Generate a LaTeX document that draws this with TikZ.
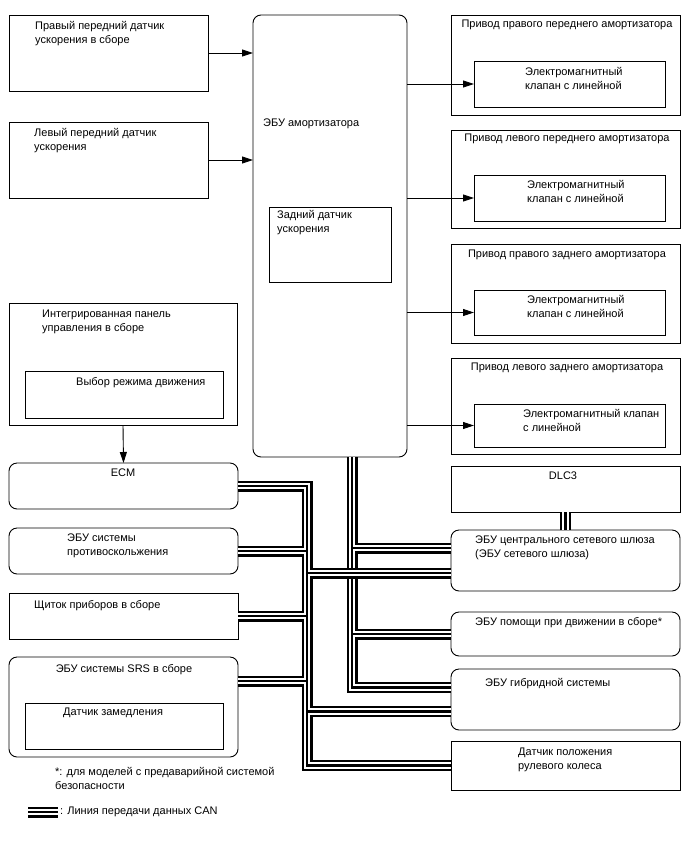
\documentclass[tikz,border=0pt]{standalone}
\usepackage{fontspec}
\setmainfont{Liberation Sans}
\usetikzlibrary{arrows.meta}

\begin{document}
\begin{tikzpicture}[x=1pt, y=-1pt,
  box/.style={draw, line width=0.9pt, anchor=north west, inner sep=0pt, outer sep=0pt},
  rbox/.style={box, rounded corners=8pt},
  txt/.style={anchor=north west, inner sep=0pt, align=left, font=\fontsize{11}{14}\selectfont},
  arr/.style={-{Triangle[length=11pt,width=7pt]}, line width=0.9pt},
  canline/.style={line width=11pt, postaction={draw=white, line width=6.6pt}, postaction={draw=black, line width=2.2pt}}]
  \useasboundingbox (0,0) rectangle (688,852);

  % sensors and shock absorber ECU
  \node[box, minimum width=199pt, minimum height=76pt] (rfsens) at (9,15) {};
  \node[txt] (rfsens-t) at (35,21) {Правый передний датчик\\ускорения в сборе};
  \node[box, minimum width=199pt, minimum height=76pt] (lfsens) at (9,122) {};
  \node[txt] (lfsens-t) at (34,128) {Левый передний датчик\\ускорения};
  \node[rbox, minimum width=154pt, minimum height=442pt] (shock) at (253,15) {};
  \node[txt] (shock-t) at (263,119) {ЭБУ амортизатора};
  \node[box, minimum width=122pt, minimum height=75pt] (rearsens) at (269,207) {};
  \node[txt] (rearsens-t) at (277,210) {Задний датчик\\ускорения};
  \draw[arr] (rfsens.east) -- (rfsens.east -| shock.west);
  \draw[arr] (lfsens.east) -- (lfsens.east -| shock.west);

  % actuators
  \node[box, minimum width=229pt, minimum height=100pt] (rfact) at (451,15) {};
  \node[txt, anchor=north] (rfact-t) at (567,20) {Привод правого переднего амортизатора};
  \node[box, minimum width=191pt, minimum height=46pt] (rfvalve) at (474,61) {};
  \node[txt] (rfvalve-t) at (525,67) {Электромагнитный\\клапан с линейной};
  \node[box, minimum width=229pt, minimum height=98pt] (lfact) at (451,130) {};
  \node[txt, anchor=north] (lfact-t) at (567,134) {Привод левого переднего амортизатора};
  \node[box, minimum width=191pt, minimum height=46pt] (lfvalve) at (474,175) {};
  \node[txt] (lfvalve-t) at (527,180) {Электромагнитный\\клапан с линейной};
  \node[box, minimum width=229pt, minimum height=99pt] (rract) at (451,244) {};
  \node[txt, anchor=north] (rract-t) at (567,250) {Привод правого заднего амортизатора};
  \node[box, minimum width=191pt, minimum height=45pt] (rrvalve) at (474,290) {};
  \node[txt] (rrvalve-t) at (527,295) {Электромагнитный\\клапан с линейной};
  \node[box, minimum width=229pt, minimum height=96pt] (lract) at (451,358) {};
  \node[txt, anchor=north] (lract-t) at (567,363) {Привод левого заднего амортизатора};
  \node[box, minimum width=191pt, minimum height=43pt] (lrvalve) at (474,404) {};
  \node[txt] (lrvalve-t) at (523,409) {Электромагнитный клапан\\с линейной};
  \draw[arr] (rfvalve.west -| shock.east) -- (rfvalve.west);
  \draw[arr] (lfvalve.west -| shock.east) -- (lfvalve.west);
  \draw[arr] (rrvalve.west -| shock.east) -- (rrvalve.west);
  \draw[arr] (lrvalve.west -| shock.east) -- (lrvalve.west);

  % left column
  \node[box, minimum width=228pt, minimum height=122pt] (panel) at (9,303) {};
  \node[txt] (panel-t) at (42,310) {Интегрированная панель\\управления в сборе};
  \node[box, minimum width=198pt, minimum height=47pt] (mode) at (25,371) {};
  \node[txt] (mode-t) at (76,377) {Выбор режима движения};
  \node[rbox, minimum width=229pt, minimum height=46pt] (ecm) at (9,463) {};
  \node[txt, anchor=north] (ecm-t) at (123,469) {ECM};
  \node[rbox, minimum width=229pt, minimum height=46pt] (abs) at (9,528) {};
  \node[txt] (abs-t) at (67,534) {ЭБУ системы\\противоскольжения};
  \node[box, minimum width=229pt, minimum height=46pt] (meter) at (9,593) {};
  \node[txt] (meter-t) at (34,600) {Щиток приборов в сборе};
  \node[rbox, minimum width=229pt, minimum height=100pt] (srs) at (9,657) {};
  \node[txt, anchor=north] (srs-t) at (124,664) {ЭБУ системы SRS в сборе};
  \node[box, minimum width=198pt, minimum height=46pt] (decel) at (25,703) {};
  \node[txt] (decel-t) at (63,708) {Датчик замедления};
  \draw[arr] (panel.south) -- (ecm.north);

  % right column
  \node[box, minimum width=229pt, minimum height=46pt] (dlc) at (451,466) {};
  \node[txt, anchor=north] (dlc-t) at (563,472) {DLC3};
  \node[rbox, minimum width=229pt, minimum height=61pt] (gw) at (451,530) {};
  \node[txt] (gw-t) at (475,536) {ЭБУ центрального сетевого шлюза\\(ЭБУ сетевого шлюза)};
  \node[rbox, minimum width=229pt, minimum height=44pt] (assist) at (451,612) {};
  \node[txt] (assist-t) at (475,617) {ЭБУ помощи при движении в сборе*};
  \node[rbox, minimum width=229pt, minimum height=61pt] (hyb) at (451,669) {};
  \node[txt] (hyb-t) at (485,678) {ЭБУ гибридной системы};
  \node[box, minimum width=229pt, minimum height=49pt] (steer) at (451,741) {};
  \node[txt] (steer-t) at (518,748) {Датчик положения\\рулевого колеса};

  % CAN lines
  \coordinate (lbus) at (307,0);
  \coordinate (rbus) at (352,0);
  \coordinate (gwA) at ([yshift=12.5pt]gw.west);
  \coordinate (gwB) at ([yshift=-12.5pt]gw.west);
  \coordinate (hybA) at ([yshift=12pt]hyb.west);
  \coordinate (hybB) at ([yshift=-12pt]hyb.west);
  \coordinate (srsA) at ([yshift=26pt]srs.east);
  \draw[canline] (rbus |- shock.south) -- (rbus |- hybA) -- (hybA)
    (rbus |- gwA) -- (gwA)
    (rbus |- assist.west) -- (assist.west);
  \draw[canline] (ecm.east) -| (lbus |- steer.west) -- (steer.west)
    (abs.east) -- (abs.east -| lbus)
    (meter.east) -- (meter.east -| lbus)
    (srsA) -- (srsA -| lbus)
    (lbus |- gwB) -- (gwB)
    (lbus |- hybB) -- (hybB);
  \draw[canline] (dlc.south) -- (gw.north);

  % notes
  \node[txt] (note-t) at (55,767) {*: для моделей с предаварийной системой\\безопасности};
  \coordinate (leg-a) at (28,812);
  \coordinate (leg-b) at (58,812);
  \draw[canline] (leg-a) -- (leg-b);
  \node[txt, anchor=west] (leg-t) at (60,812) {: Линия передачи данных CAN};
\end{tikzpicture}
\end{document}
